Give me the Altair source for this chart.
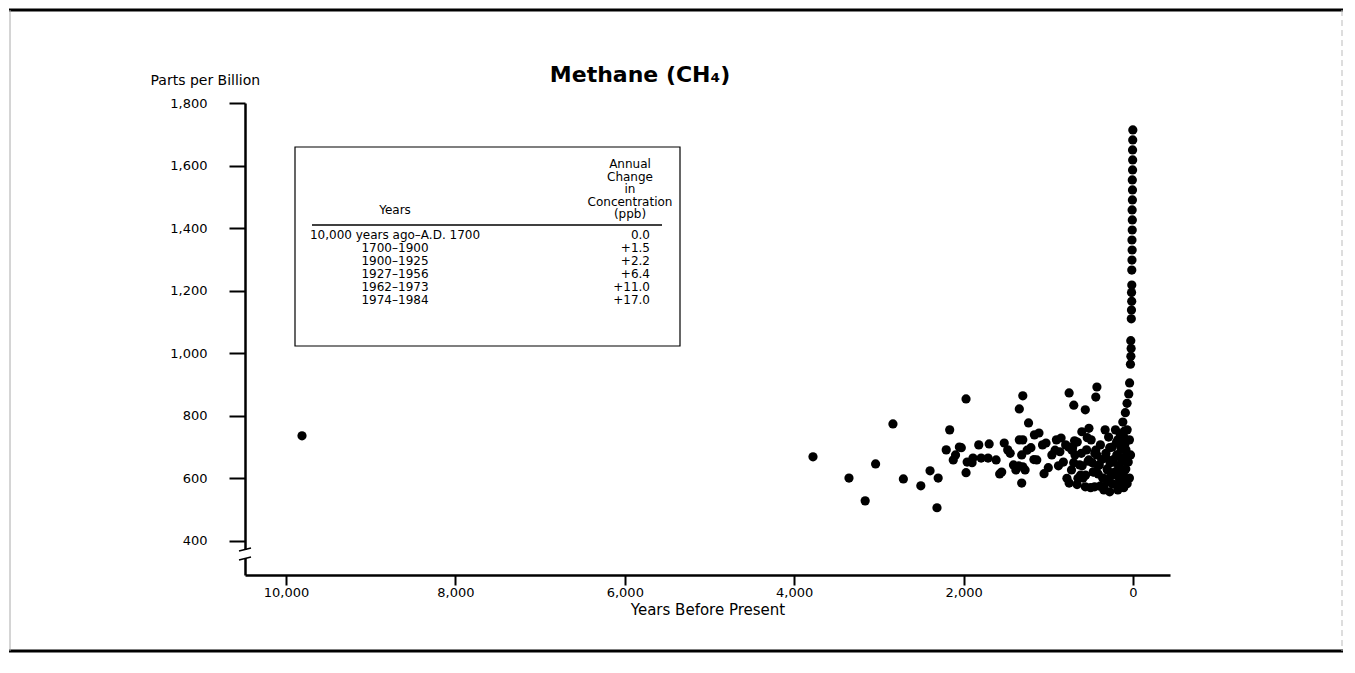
import altair as alt
import pandas as pd

# ---- data (years before present, ppb) ----
years_bp = [
    # scattered early / mid points
    9811, 3778, 3353, 3162, 3039, 2834, 2711, 2505, 2396, 2300, 2314, 2164, 1971,
    2205, 2027, 1889, 1711, 1958, 2095, 1821, 1971, 1698, 1574, 1314, 1616, 1479,
    1342, 1205, 1136, 1411, 1274, 1164, 1068, 1314, 1233, 1342, 1301, 904, 1000,
    754, 754, 699, 563, 426, 439, 2122, 1793, 1520, 1301, 1110, 1027, 1301, 1383,
    # dense cluster of the last millennium
    863, 822, 795, 726, 685, 658, 630, 589, 548, 521, 494, 466, 453, 426, 398,
    385, 357, 344, 316, 302, 288, 275, 247, 234, 220, 207, 192, 179, 166, 151,
    138, 125, 110, 97, 83, 69, 56, 42, 563, 344, 604, 713, 958, 849, 411, 275,
    110, 42, 29, 69, 179, 329,
    620, 480, 720, 540, 660, 780, 600, 450, 690, 520, 80, 85, 90, 95, 105, 115, 120, 130,
    140, 150, 160, 170, 180, 195, 205, 215, 230, 245, 260, 270, 290, 305, 320,
    350, 370, 390, 410, 440, 470, 500, 530, 560, 610, 650, 700, 760, 880, 920,
    1050, 1170, 1250, 1350, 1450, 1550, 1900, 2050,
    # modern rise
    120, 90, 70, 50, 40, 30, 25, 22, 26, 20, 18, 15, 17, 14,
    14, 12, 10, 12, 9, 8, 10, 7, 6, 8, 5, 4, 5, 3, 2,
]
ppb = [
    736, 669, 601, 528, 646, 774, 598, 576, 624, 601, 506, 755, 854,
    691, 698, 665, 665, 652, 675, 707, 618, 710, 614, 585, 659, 691,
    723, 698, 659, 643, 627, 739, 707, 675, 777, 822, 864, 723, 634,
    585, 873, 834, 819, 892, 860, 659, 665, 713, 723, 745, 713, 637, 627,
    685, 652, 707, 627, 675, 716, 643, 601, 691, 659, 723, 621, 573, 675, 643,
    707, 601, 563, 665, 627, 732, 698, 583, 652, 611, 755, 675, 563, 634, 707,
    595, 665, 732, 627, 691, 583, 652, 723, 573, 573, 749, 698, 675, 729, 614, 557,
    570, 601, 675, 755, 723, 755,
    610, 650, 690, 730, 580, 600, 640, 680, 720, 760, 590, 630, 670, 710, 750, 575, 615, 655,
    695, 740, 600, 640, 675, 715, 580, 620, 660, 700, 610, 650, 590, 630, 680,
    600, 660, 575, 640, 690, 620, 570, 655, 610, 680, 600, 650, 700, 640, 690,
    615, 660, 690, 640, 680, 620, 650, 700,
    780, 810, 840, 870, 905, 965, 990, 1015, 1040, 1110, 1138, 1166, 1194, 1218,
    1266, 1298, 1330, 1362, 1394, 1426, 1458, 1490, 1522, 1554, 1586, 1618, 1650, 1682, 1714,
]

x_ticks = [10000, 8000, 6000, 4000, 2000, 0]
y_ticks = [400, 600, 800, 1000, 1200, 1400, 1600, 1800]

table_header_years = "Years"
table_header_change = ["Annual", "Change", "in", "Concentration", "(ppb)"]
table_years = [
    "10,000 years ago\u2013A.D. 1700",
    "1700\u20131900",
    "1900\u20131925",
    "1927\u20131956",
    "1962\u20131973",
    "1974\u20131984",
]
table_change = ["0.0", "+1.5", "+2.2", "+6.4", "+11.0", "+17.0"]

FONT = "DejaVu Sans"

df = pd.DataFrame({"years": years_bp, "ppb": ppb})
one = pd.DataFrame({"k": [0]})

x_enc = alt.X(
    "years:Q",
    scale=alt.Scale(domain=[-437, 10484], reverse=True, nice=False, zero=False),
    axis=alt.Axis(values=x_ticks, format=",d", title="Years Before Present",
                  tickSize=10, labelPadding=1, titlePadding=3),
)
y_enc = alt.Y(
    "ppb:Q",
    scale=alt.Scale(domain=[291, 1800], nice=False, zero=False),
    axis=alt.Axis(values=y_ticks, format=",d", title="Parts per Billion",
                  titleAngle=0, titleAlign="left", titleBaseline="middle",
                  titleX=-95, titleY=-23, titleFontSize=14,
                  tickSize=16, labelPadding=22),
)

points = alt.Chart(df).mark_circle(size=85, color="black", opacity=1).encode(x=x_enc, y=y_enc)

# inset table
box = alt.Chart(one).mark_rect(fill="white", stroke="black", strokeWidth=1.2).encode(
    x=alt.value(50), x2=alt.value(435), y=alt.value(44), y2=alt.value(243))
divider = alt.Chart(one).mark_rule(color="black", strokeWidth=1.3).encode(
    x=alt.value(67), x2=alt.value(417), y=alt.value(122))
hdr_years = alt.Chart(one).mark_text(font=FONT, fontSize=12, align="center", baseline="top",
                                     color="black").encode(
    x=alt.value(150), y=alt.value(102), text=alt.value(table_header_years))
hdr_change = alt.Chart(one).mark_text(font=FONT, fontSize=12, align="center", baseline="top",
                                      lineHeight=12.5, color="black").encode(
    x=alt.value(385), y=alt.value(56), text=alt.value(table_header_change))
rows_years = alt.Chart(one).mark_text(font=FONT, fontSize=12, align="center", baseline="top",
                                      lineHeight=13, color="black").encode(
    x=alt.value(150), y=alt.value(127), text=alt.value(table_years))
rows_change = alt.Chart(one).mark_text(font=FONT, fontSize=12, align="right", baseline="top",
                                       lineHeight=13, color="black").encode(
    x=alt.value(405), y=alt.value(127), text=alt.value(table_change))

# chart title
title = alt.Chart(one).mark_text(font=FONT, fontSize=22, fontWeight="bold", align="center",
                                 baseline="middle", color="black").encode(
    x=alt.value(395), y=alt.value(-28), text=alt.value("Methane (CH\u2084)"))

# axis break on the y axis
brk_bg = alt.Chart(one).mark_rect(fill="white").encode(
    x=alt.value(-6), x2=alt.value(6), y=alt.value(447), y2=alt.value(455))
brk1 = alt.Chart(one).mark_rule(color="black", strokeWidth=1.6).encode(
    x=alt.value(-6), x2=alt.value(6), y=alt.value(448), y2=alt.value(445))
brk2 = alt.Chart(one).mark_rule(color="black", strokeWidth=1.6).encode(
    x=alt.value(-6), x2=alt.value(6), y=alt.value(457), y2=alt.value(454))

# page frame
frame_top = alt.Chart(one).mark_rule(color="black", strokeWidth=3).encode(
    x=alt.value(-236), x2=alt.value(1098), y=alt.value(-93))
frame_bot = alt.Chart(one).mark_rule(color="black", strokeWidth=3).encode(
    x=alt.value(-236), x2=alt.value(1098), y=alt.value(548))
frame_l = alt.Chart(one).mark_rule(color="#aaaaaa", strokeWidth=1).encode(
    x=alt.value(-235), y=alt.value(-93), y2=alt.value(548))
frame_r = alt.Chart(one).mark_rule(color="#bbbbbb", strokeWidth=1, strokeDash=[6, 4]).encode(
    x=alt.value(1097), y=alt.value(-93), y2=alt.value(548))

chart = alt.layer(
    frame_top, frame_bot, frame_l, frame_r, title,
    box, divider, hdr_years, hdr_change, rows_years, rows_change,
    points, brk_bg, brk1, brk2,
).properties(
    width=925,
    height=472,
    autosize=alt.AutoSizeParams(type="none"),
    padding={"left": 237, "top": 95, "right": 175, "bottom": 85},
    background="white",
).configure_view(stroke=None).configure_axis(
    domainColor="black", domainWidth=2.5, tickColor="black", tickWidth=2, grid=False,
    labelFont=FONT, labelFontSize=13, labelColor="black",
    titleFont=FONT, titleFontSize=15, titleColor="black", titleFontWeight="normal",
)

chart.save("out.html", embed_options={"renderer": "svg", "actions": False})
